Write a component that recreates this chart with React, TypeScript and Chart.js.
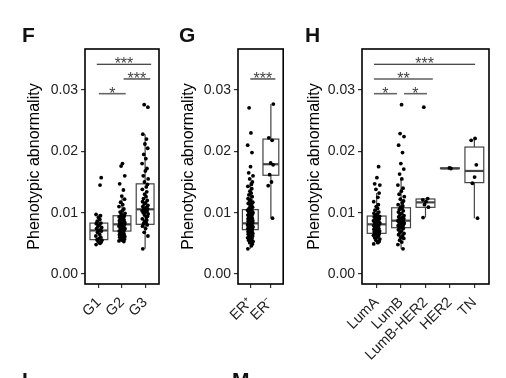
import React, { useEffect, useRef } from "react";
import { Chart, registerables } from "chart.js";

Chart.register(...registerables);

const FONT = "'Liberation Sans', Arial, sans-serif";
const Y_TICKS = [0, 0.01, 0.02, 0.03];
const Y_MIN = -0.00163;
const Y_MAX = 0.036685;
const Y_TITLE = "Phenotypic abnormality";

// ---------- Panel F : grade ----------
const F_CATS = ["G1", "G2", "G3"];
const F_G1 = [0.0048, 0.005, 0.0052, 0.0053, 0.0055, 0.0056, 0.0058, 0.006, 0.0062, 0.0065, 0.0068, 0.007, 0.0071, 0.0072, 0.0074, 0.0076, 0.0078, 0.008, 0.0082, 0.0083, 0.0086, 0.0089, 0.0092, 0.0095, 0.0097, 0.0145, 0.0157];
const F_G2 = [0.0053, 0.0054, 0.0055, 0.0056, 0.0057, 0.0058, 0.0059, 0.006, 0.0061, 0.0062, 0.0063, 0.0064, 0.0065, 0.0066, 0.0067, 0.0068, 0.0069, 0.007, 0.0071, 0.0072, 0.0073, 0.0074, 0.0075, 0.0076, 0.0077, 0.0078, 0.0079, 0.008, 0.0081, 0.0081, 0.0082, 0.0083, 0.0084, 0.0085, 0.0086, 0.0087, 0.0088, 0.0089, 0.009, 0.0091, 0.0092, 0.0093, 0.0094, 0.0095, 0.0097, 0.0099, 0.0101, 0.0103, 0.0106, 0.011, 0.0113, 0.0117, 0.0122, 0.0127, 0.0137, 0.0147, 0.016, 0.0176, 0.018];
const F_G3 = [0.0041, 0.0062, 0.0068, 0.0074, 0.0078, 0.008, 0.0082, 0.0084, 0.0086, 0.0088, 0.009, 0.0092, 0.0094, 0.0096, 0.0098, 0.01, 0.0101, 0.0102, 0.0103, 0.0104, 0.0105, 0.0106, 0.0107, 0.0108, 0.011, 0.0112, 0.0114, 0.0116, 0.0118, 0.012, 0.0123, 0.0126, 0.013, 0.0134, 0.0138, 0.0142, 0.0146, 0.015, 0.0155, 0.016, 0.0168, 0.0172, 0.018, 0.0188, 0.0195, 0.0205, 0.0212, 0.022, 0.0228, 0.0272, 0.0276];
const F_Q1 = [0.0056, 0.007, 0.0081];
const F_MED = [0.0071, 0.0081, 0.01055];
const F_Q3 = [0.0083, 0.0095, 0.0147];
const F_LO = [0.0048, 0.0053, 0.0041];
const F_HI = [0.0097, 0.0127, 0.0228];

// ---------- Panel G : ER status ----------
const G_CATS = ["ER\u207A", "ER\u207B"];
const G_POS = [0.0041, 0.0046, 0.0049, 0.0051, 0.0053, 0.0055, 0.0056, 0.0058, 0.0059, 0.006, 0.0061, 0.0062, 0.0063, 0.0064, 0.0065, 0.0066, 0.0067, 0.0068, 0.0069, 0.007, 0.0071, 0.0072, 0.0072, 0.0073, 0.0074, 0.0075, 0.0075, 0.0076, 0.0077, 0.0078, 0.0078, 0.0079, 0.008, 0.0081, 0.0082, 0.0083, 0.0084, 0.0085, 0.0086, 0.0087, 0.0088, 0.0089, 0.009, 0.0091, 0.0092, 0.0093, 0.0094, 0.0095, 0.0096, 0.0097, 0.0098, 0.0099, 0.01, 0.0101, 0.0102, 0.0103, 0.0104, 0.0105, 0.0107, 0.0109, 0.0111, 0.0113, 0.0115, 0.0117, 0.0119, 0.0121, 0.0123, 0.0126, 0.0129, 0.0132, 0.0135, 0.0139, 0.0143, 0.0146, 0.015, 0.0155, 0.016, 0.0165, 0.0175, 0.0198, 0.021, 0.023, 0.0271];
const G_NEG = [0.0091, 0.0144, 0.015, 0.0162, 0.0178, 0.0181, 0.0218, 0.0222, 0.0277];
const G_Q1 = [0.00723, 0.0161];
const G_MED = [0.00826, 0.0179];
const G_Q3 = [0.0105, 0.022];
const G_LO = [0.0041, 0.0091];
const G_HI = [0.015, 0.0277];

// ---------- Panel H : subtype ----------
const H_CATS = ["LumA", "LumB", "LumB-HER2", "HER2", "TN"];
const H_LUMA = [0.0049, 0.0051, 0.0053, 0.0055, 0.0057, 0.0059, 0.006, 0.0062, 0.0063, 0.0064, 0.0065, 0.0066, 0.0067, 0.0068, 0.0069, 0.007, 0.0071, 0.0072, 0.0073, 0.0074, 0.0075, 0.0076, 0.0077, 0.0078, 0.0079, 0.008, 0.0081, 0.0082, 0.0083, 0.0084, 0.0085, 0.0086, 0.0087, 0.0088, 0.0089, 0.009, 0.0091, 0.0092, 0.0093, 0.0094, 0.0095, 0.0097, 0.0099, 0.0101, 0.0104, 0.0107, 0.011, 0.0113, 0.0118, 0.0125, 0.0132, 0.0138, 0.0145, 0.0147, 0.0157, 0.0175];
const H_LUMB = [0.0041, 0.0048, 0.0052, 0.0055, 0.0058, 0.006, 0.0062, 0.0064, 0.0066, 0.0068, 0.007, 0.0072, 0.0074, 0.0075, 0.0076, 0.0077, 0.0078, 0.0079, 0.008, 0.0081, 0.0082, 0.0083, 0.0084, 0.0085, 0.0086, 0.0087, 0.0088, 0.0089, 0.009, 0.0091, 0.0092, 0.0093, 0.0095, 0.0097, 0.0099, 0.0101, 0.0103, 0.0105, 0.0107, 0.0109, 0.0111, 0.0113, 0.0116, 0.0119, 0.0122, 0.0126, 0.013, 0.0135, 0.014, 0.0145, 0.0155, 0.0163, 0.0171, 0.018, 0.0198, 0.021, 0.0224, 0.0229, 0.0276];
const H_LUMBHER2 = [0.0092, 0.0109, 0.0113, 0.0118, 0.0121, 0.0123, 0.0272];
const H_HER2 = [0.0172, 0.0173];
const H_TN = [0.0091, 0.0148, 0.0158, 0.0178, 0.0218, 0.0221];
const H_Q1 = [0.00663, 0.00755, 0.01087, 0.0172, 0.0149];
const H_MED = [0.0081, 0.0087, 0.01168, 0.0172, 0.0168];
const H_Q3 = [0.00945, 0.0108, 0.01223, 0.0173, 0.0207];
const H_LO = [0.0049, 0.0041, 0.0092, 0.0172, 0.0091];
const H_HI = [0.0132, 0.0155, 0.0123, 0.0173, 0.0221];

// fixed jitter offsets (category units)
const JITTER = [-0.12, 0.05, 0.1, -0.03, 0.13, -0.08, 0.01, 0.08, -0.13, 0.03, -0.06, 0.11, -0.01, 0.06, -0.1, 0.12, -0.04, 0.02, -0.11, 0.09, -0.07, 0.04, -0.02, 0.07];

type Sig = { x1: number; x2: number; y: number; label: string; color: string };

const F_SIGS: Sig[] = [
  { x1: 0.91, x2: 3.26, y: 0.0342, label: "***", color: "#111" },
  { x1: 2.07, x2: 3.22, y: 0.0318, label: "***", color: "#111" },
  { x1: 1.0, x2: 2.16, y: 0.0294, label: "*", color: "#666" },
];
const G_SIGS: Sig[] = [{ x1: 1.0, x2: 2.22, y: 0.0318, label: "***", color: "#111" }];
const H_SIGS: Sig[] = [
  { x1: 0.89, x2: 5.03, y: 0.0342, label: "***", color: "#111" },
  { x1: 0.89, x2: 3.3, y: 0.0318, label: "**", color: "#111" },
  { x1: 0.89, x2: 1.83, y: 0.0294, label: "*", color: "#666" },
  { x1: 2.12, x2: 3.06, y: 0.0294, label: "*", color: "#666" },
];

type Panel = {
  cats: string[];
  groups: number[][];
  q1: number[];
  med: number[];
  q3: number[];
  lo: number[];
  hi: number[];
  sigs: Sig[];
  left: number;
  width: number;
  areaLeft: number;
  areaRight: number;
  titleCenter: number;
};

const PANELS: Panel[] = [
  { cats: F_CATS, groups: [F_G1, F_G2, F_G3], q1: F_Q1, med: F_MED, q3: F_Q3, lo: F_LO, hi: F_HI, sigs: F_SIGS, left: 0, width: 165, areaLeft: 85, areaRight: 159, titleCenter: 34.5 },
  { cats: G_CATS, groups: [G_POS, G_NEG], q1: G_Q1, med: G_MED, q3: G_Q3, lo: G_LO, hi: G_HI, sigs: G_SIGS, left: 165, width: 125, areaLeft: 238, areaRight: 287, titleCenter: 188.5 },
  { cats: H_CATS, groups: [H_LUMA, H_LUMB, H_LUMBHER2, H_HER2, H_TN], q1: H_Q1, med: H_MED, q3: H_Q3, lo: H_LO, hi: H_HI, sigs: H_SIGS, left: 290, width: 216, areaLeft: 362, areaRight: 489, titleCenter: 315 },
];

const CANVAS_H = 378;
const AREA_TOP = 49;
const AREA_BOTTOM = 284;
const TITLE_SIZE = 16;
const Y_TICK_SIZE = 14;
const X_TICK_SIZE = 14.5;

function PanelChart({ p }: { p: Panel }) {
  const ref = useRef<HTMLCanvasElement | null>(null);
  useEffect(() => {
    if (!ref.current) return;
    const points = p.groups.flatMap((arr, gi) =>
      arr.map((v, j) => ({ x: gi + 1 + JITTER[(j + gi * 7) % JITTER.length], y: v }))
    );
    const boxPlugin = {
      id: "boxes",
      beforeDatasetsDraw(chart: any) {
        const { ctx, scales } = chart;
        const xs = scales.x;
        const ys = scales.y;
        ctx.save();
        p.cats.forEach((_, i) => {
          const cx = xs.getPixelForValue(i + 1);
          const hw = xs.getPixelForValue(i + 1.385) - cx;
          const yq1 = ys.getPixelForValue(p.q1[i]);
          const yq3 = ys.getPixelForValue(p.q3[i]);
          const ym = ys.getPixelForValue(p.med[i]);
          const ylo = ys.getPixelForValue(p.lo[i]);
          const yhi = ys.getPixelForValue(p.hi[i]);
          ctx.strokeStyle = "#444";
          ctx.lineWidth = 1.2;
          ctx.beginPath();
          ctx.moveTo(cx, yq1);
          ctx.lineTo(cx, ylo);
          ctx.moveTo(cx, yq3);
          ctx.lineTo(cx, yhi);
          ctx.stroke();
          ctx.fillStyle = "#fff";
          ctx.fillRect(cx - hw, yq3, hw * 2, yq1 - yq3);
          ctx.strokeRect(cx - hw, yq3, hw * 2, yq1 - yq3);
          ctx.lineWidth = 2.2;
          ctx.beginPath();
          ctx.moveTo(cx - hw, ym);
          ctx.lineTo(cx + hw, ym);
          ctx.stroke();
        });
        ctx.restore();
      },
      afterDatasetsDraw(chart: any) {
        const { ctx, scales, chartArea } = chart;
        const xs = scales.x;
        const ys = scales.y;
        ctx.save();
        p.sigs.forEach((s) => {
          const x1 = xs.getPixelForValue(s.x1);
          const x2 = xs.getPixelForValue(s.x2);
          const y = ys.getPixelForValue(s.y);
          ctx.strokeStyle = s.color;
          ctx.lineWidth = s.color === "#666" ? 1.6 : 1.1;
          ctx.beginPath();
          ctx.moveTo(x1, y);
          ctx.lineTo(x2, y);
          ctx.stroke();
          ctx.fillStyle = "#444";
          ctx.font = `16px ${FONT}`;
          ctx.textAlign = "center";
          ctx.textBaseline = "alphabetic";
          ctx.fillText(s.label, (x1 + x2) / 2, y + 5);
        });
        ctx.strokeStyle = "#000";
        ctx.lineWidth = 1.6;
        ctx.strokeRect(chartArea.left, chartArea.top, chartArea.right - chartArea.left, chartArea.bottom - chartArea.top);
        ctx.restore();
      },
    };
    const lineH = TITLE_SIZE * 1.2;
    const chart = new Chart(ref.current, {
      type: "scatter",
      data: {
        datasets: [
          {
            data: points,
            pointRadius: 1.9,
            pointBackgroundColor: "#000",
            pointBorderWidth: 0,
            pointHoverRadius: 1.9,
          },
        ],
      },
      options: {
        animation: false,
        responsive: false,
        maintainAspectRatio: false,
        events: [],
        layout: { padding: { top: AREA_TOP, right: p.left + p.width - p.areaRight, left: 0, bottom: 0 } },
        plugins: { legend: { display: false }, tooltip: { enabled: false } },
        scales: {
          x: {
            type: "linear",
            min: 0.4,
            max: p.cats.length + 0.6,
            afterBuildTicks: (s: any) => {
              s.ticks = p.cats.map((_, i) => ({ value: i + 1 }));
            },
            afterFit: (s: any) => {
              s.height = CANVAS_H - AREA_BOTTOM;
            },
            ticks: {
              autoSkip: false,
              minRotation: 45,
              maxRotation: 45,
              padding: 6,
              color: "#222",
              font: { family: FONT, size: X_TICK_SIZE },
              callback: (v: any) => p.cats[Math.round(Number(v)) - 1] ?? "",
            },
            grid: { display: true, drawOnChartArea: false, drawTicks: true, tickLength: 4, color: "#333", lineWidth: 1.2 },
            border: { display: false },
          },
          y: {
            type: "linear",
            min: Y_MIN,
            max: Y_MAX,
            afterBuildTicks: (s: any) => {
              s.ticks = Y_TICKS.map((v) => ({ value: v }));
            },
            afterFit: (s: any) => {
              s.width = p.areaLeft - p.left;
            },
            ticks: {
              padding: 3,
              color: "#222",
              font: { family: FONT, size: Y_TICK_SIZE },
              callback: (v: any) => Number(v).toFixed(2),
            },
            grid: { display: true, drawOnChartArea: false, drawTicks: true, tickLength: 4, color: "#333", lineWidth: 1.2 },
            border: { display: false },
            title: {
              display: true,
              text: Y_TITLE,
              color: "#000",
              font: { family: FONT, size: TITLE_SIZE },
              padding: { top: p.titleCenter - p.left - lineH / 2, bottom: 0 },
            },
          },
        },
      },
      plugins: [boxPlugin],
    });
    return () => chart.destroy();
  }, [p]);
  return (
    <canvas
      ref={ref}
      width={p.width}
      height={CANVAS_H}
      style={{ position: "absolute", left: p.left, top: 0, width: p.width, height: CANVAS_H }}
    />
  );
}

const LETTERS = [
  { t: "F", x: 22, y: 24 },
  { t: "G", x: 179, y: 24 },
  { t: "H", x: 305, y: 24 },
  { t: "L", x: 22, y: 369 },
  { t: "M", x: 232, y: 369 },
];

export default function App() {
  return (
    <div style={{ position: "fixed", left: 0, top: 0, width: 506, height: 378, background: "#fff", overflow: "hidden" }}>
      {PANELS.map((p, i) => (
        <PanelChart key={i} p={p} />
      ))}
      {LETTERS.map((l) => (
        <div
          key={l.t}
          style={{ position: "absolute", left: l.x, top: l.y, fontFamily: FONT, fontWeight: "bold", fontSize: 21, lineHeight: "21px", color: "#111" }}
        >
          {l.t}
        </div>
      ))}
    </div>
  );
}
